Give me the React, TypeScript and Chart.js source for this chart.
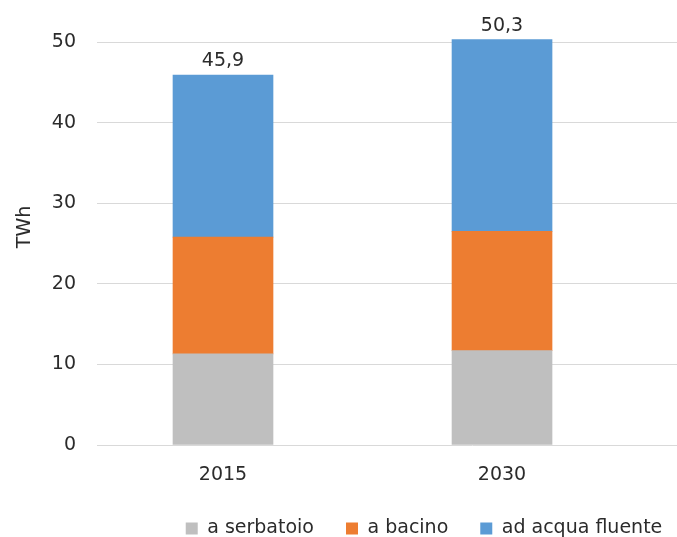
import React, { useEffect, useRef } from "react";
import { Chart, registerables } from "chart.js";

Chart.register(...registerables);

// Produzione idroelettrica per tipologia di impianto (TWh)
const categories = ["2015", "2030"];
const serbatoio = [11.3, 11.7];
const bacino = [14.5, 14.8];
const acquaFluente = [20.1, 23.8];
const seriesNames = ["a serbatoio", "a bacino", "ad acqua fluente"];
const yTicks = [0, 10, 20, 30, 40, 50];
const unitLabel = "TWh";

const FONT = "DejaVu Sans";
const TEXT = "#2b2b2b";

const fmt = (v: number) => v.toFixed(1).replace(".", ",");

// Totals written above each stacked column
const totalsPlugin = {
  id: "stackTotals",
  afterDatasetsDraw(chart: any) {
    const { ctx } = chart;
    const last = chart.getDatasetMeta(chart.data.datasets.length - 1);
    ctx.save();
    ctx.font = `19px "${FONT}"`;
    ctx.fillStyle = TEXT;
    ctx.textAlign = "center";
    ctx.textBaseline = "bottom";
    categories.forEach((_, i) => {
      const total = chart.data.datasets.reduce(
        (s: number, ds: any) => s + ds.data[i].y,
        0
      );
      const el = last.data[i];
      ctx.fillText(fmt(total), el.x, el.y - 4);
    });
    ctx.restore();
  },
};

// Rotated unit label beside the value axis
const unitPlugin = {
  id: "unitLabel",
  afterDraw(chart: any) {
    const { ctx } = chart;
    ctx.save();
    ctx.translate(25, 227);
    ctx.rotate(-Math.PI / 2);
    ctx.font = `19px "${FONT}"`;
    ctx.fillStyle = TEXT;
    ctx.textAlign = "center";
    ctx.textBaseline = "middle";
    ctx.fillText(unitLabel, 0, 0);
    ctx.restore();
  },
};

function App() {
  const canvasRef = useRef<HTMLCanvasElement | null>(null);

  useEffect(() => {
    const canvas = canvasRef.current;
    if (!canvas) return;
    const toPoints = (arr: number[]) => arr.map((y, i) => ({ x: i, y }));
    const chart = new Chart(canvas, {
      type: "bar",
      data: {
        datasets: [
          { label: seriesNames[0], data: toPoints(serbatoio), backgroundColor: "#bfbfbf" },
          { label: seriesNames[1], data: toPoints(bacino), backgroundColor: "#ed7d31" },
          { label: seriesNames[2], data: toPoints(acquaFluente), backgroundColor: "#5b9bd5" },
        ],
      },
      options: {
        responsive: false,
        animation: false,
        devicePixelRatio: 1,
        layout: { padding: { top: 42, left: 0, right: 0, bottom: 0 } },
        datasets: { bar: { barThickness: 100, clip: false } },
        scales: {
          x: {
            type: "linear",
            stacked: true,
            offset: false,
            min: -0.4516,
            max: 2.24,
            grid: { display: false, drawTicks: false, offset: false },
            border: { display: false },
            afterBuildTicks: (scale: any) => {
              scale.ticks = categories.map((_, i) => ({ value: i }));
            },
            afterFit: (scale: any) => {
              scale.height = 42;
            },
            ticks: {
              padding: 19,
              maxRotation: 0,
              autoSkip: false,
              color: TEXT,
              font: { family: FONT, size: 19 },
              callback: (v: any) => categories[v] ?? "",
            },
          },
          y: {
            stacked: true,
            min: yTicks[0],
            max: yTicks[yTicks.length - 1],
            afterBuildTicks: (scale: any) => {
              scale.ticks = yTicks.map((value) => ({ value }));
            },
            afterFit: (scale: any) => {
              scale.width = 97;
            },
            grid: { color: "#d9d9d9", lineWidth: 1, drawTicks: false },
            border: { display: false },
            ticks: {
              padding: 21,
              color: TEXT,
              font: { family: FONT, size: 19 },
            },
          },
        },
        plugins: {
          legend: {
            position: "bottom",
            labels: {
              boxWidth: 12,
              boxHeight: 12,
              padding: 32,
              color: TEXT,
              font: { family: FONT, size: 19 },
            },
          },
          tooltip: { enabled: false },
        },
      },
      plugins: [totalsPlugin, unitPlugin],
    });
    return () => chart.destroy();
  }, []);

  return (
    <div
      style={{
        position: "fixed",
        left: 0,
        top: 0,
        width: 677,
        height: 537,
        overflow: "hidden",
        background: "#ffffff",
      }}
    >
      <canvas ref={canvasRef} width={848} height={548} style={{ display: "block" }} />
    </div>
  );
}

export default App;
